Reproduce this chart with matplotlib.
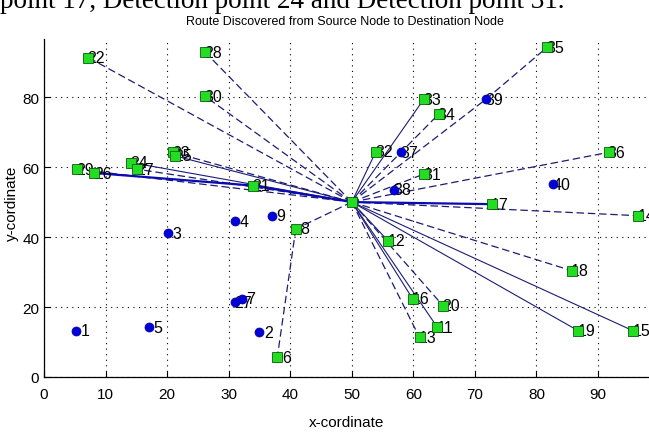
import matplotlib
matplotlib.use("Agg")
import matplotlib.pyplot as plt

plt.rcParams['font.family'] = ['Liberation Sans', 'DejaVu Sans']

# source node
src_x, src_y = 50, 50

# route nodes (green squares)
green_lbl = ["22", "28", "30", "29", "26", "24", "27", "23", "25", "21",
             "32", "33", "34", "35", "36", "31", "17", "14", "12", "8",
             "6", "18", "16", "20", "11", "13", "19", "15"]
green_x = [7.2, 26.2, 26.2, 5.3, 8.2, 14.1, 15.1, 21.0, 21.3, 34.0,
           53.9, 61.7, 64.1, 81.7, 91.7, 61.7, 72.7, 96.5, 55.9, 40.9,
           37.9, 85.7, 59.9, 64.8, 63.9, 61.0, 86.8, 95.7]
green_y = [91.3, 92.8, 80.2, 59.4, 58.3, 61.3, 59.4, 64.2, 63.2, 54.7,
           64.4, 79.4, 75.1, 94.2, 64.2, 58.0, 49.4, 46.1, 38.9, 42.3,
           5.7, 30.4, 22.3, 20.4, 14.2, 11.3, 13.2, 13.2]

# other nodes (blue circles)
blue_lbl = ["1", "5", "2", "3", "4", "9", "27", "7", "38", "37", "39", "40"]
blue_x = [5.2, 17.1, 35.0, 20.1, 31.0, 37.0, 31.0, 32.1, 56.9, 58.0, 71.8, 82.7]
blue_y = [13.2, 14.2, 12.8, 41.1, 44.5, 46.1, 21.3, 22.3, 53.5, 64.2, 79.4, 55.1]

# discovered route segments
solid_routes = [("S", "33"), ("S", "32"), ("S", "19"), ("S", "15"), ("S", "16"),
                ("S", "11"), ("S", "12"), ("S", "24"), ("S", "25")]
dashed_routes = [("S", "22"), ("S", "28"), ("S", "30"), ("S", "34"), ("S", "39"),
                 ("39", "35"), ("S", "36"), ("S", "31"), ("S", "14"), ("S", "18"),
                 ("S", "20"), ("S", "13"), ("S", "8"), ("8", "6"), ("S", "29"),
                 ("S", "27"), ("S", "23")]
blue_routes = [("S", "17"), ("S", "21"), ("21", "26")]

pos = {"S": (src_x, src_y)}
for l, x, y in zip(green_lbl, green_x, green_y):
    pos.setdefault(l, (x, y))
pos["39"] = (blue_x[blue_lbl.index("39")], blue_y[blue_lbl.index("39")])

fig = plt.figure(figsize=(6.49, 4.35), dpi=100)
ax = fig.add_axes([44 / 649, 57 / 435, 615.6 / 649, 338 / 435])

navy = "#1c1c74"
for a, b in solid_routes:
    (x1, y1), (x2, y2) = pos[a], pos[b]
    ax.plot([x1, x2], [y1, y2], color=navy, lw=0.8, zorder=2)
for a, b in dashed_routes:
    (x1, y1), (x2, y2) = pos[a], pos[b]
    ax.plot([x1, x2], [y1, y2], color=navy, lw=0.9, ls=(0, (6, 3)), zorder=2)
for a, b in blue_routes:
    (x1, y1), (x2, y2) = pos[a], pos[b]
    ax.plot([x1, x2], [y1, y2], color="#0a0ab4", lw=1.6, zorder=2)

ax.plot(blue_x, blue_y, "o", ms=6.5, color="#0000d8", mec="#0000a0", mew=0.5,
        ls="none", zorder=5, clip_on=False)
ax.plot(green_x, green_y, "s", ms=7.5, color="#22dd22", mec="#0a5a0a", mew=0.6,
        ls="none", zorder=5, clip_on=False)
ax.plot([src_x], [src_y], "s", ms=7.5, color="#22dd22", mec="#0a5a0a", mew=0.6,
        zorder=5)

# node numbers: two-digit ones start under the marker, single digits clear it
for l, x, y in zip(green_lbl + blue_lbl, green_x + blue_x, green_y + blue_y):
    dx = 3.2 if len(l) == 1 else -0.5
    ax.annotate(l, (x, y), xytext=(dx, 0), textcoords="offset points",
                ha="left", va="center", fontsize=11.5, zorder=4,
                annotation_clip=False)

ax.set_xlim(0, 100)
ax.set_ylim(0, 96.6)
ax.set_xticks(range(0, 100, 10))
ax.set_yticks(range(0, 100, 20))
ax.tick_params(direction="in", length=4, width=0.8, labelsize=11)
ax.tick_params(axis="x", pad=7)
ax.grid(True, color="k", ls=(0, (1, 4)), lw=0.8)
ax.set_axisbelow(True)
for s in ["top", "right"]:
    ax.spines[s].set_visible(False)
ax.spines["left"].set_linewidth(0.9)
ax.spines["bottom"].set_linewidth(0.9)

fig.text(345 / 649, 1 - 25 / 435, "Route Discovered from Source Node to Destination Node",
         ha="center", va="baseline", fontsize=9)
fig.text(347 / 649, 1 - 423 / 435, "x-cordinate", ha="center", va="center", fontsize=11)
fig.text(12 / 649, 1 - 203 / 435, "y-cordinate", ha="center", va="center",
         rotation=90, fontsize=11)

# caption line of the page above the figure, cut by the top edge
fig.text(0.0, 1 - 8 / 435, "point 17, Detection point 24 and Detection point 31.",
         family="Liberation Serif", fontsize=19.5, ha="left", va="baseline")

fig.savefig("out.png", dpi=100)
